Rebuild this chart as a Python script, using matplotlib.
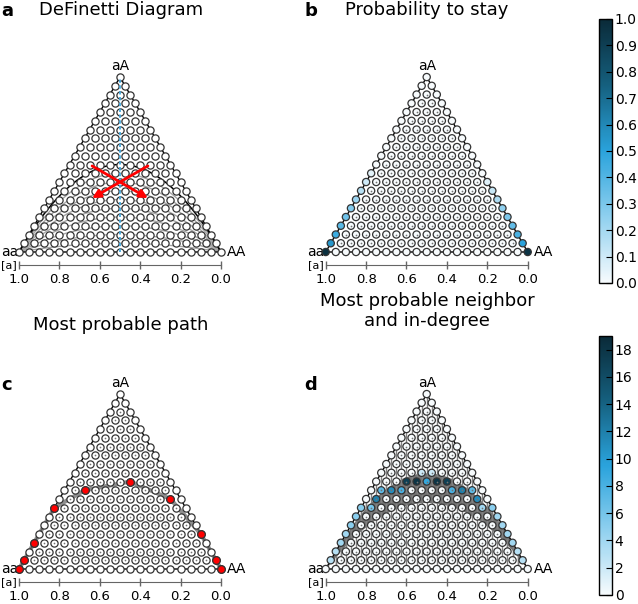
import numpy as np
import matplotlib
matplotlib.use('Agg')
import matplotlib.pyplot as plt
from matplotlib.colors import LinearSegmentedColormap, Normalize
from matplotlib.cm import ScalarMappable

N = 20                      # population size -> N+1 nodes on the bottom row
H = np.sqrt(3) / 2          # height of the triangle in data units

freq_ticks = [0.0, 0.2, 0.4, 0.6, 0.8, 1.0]
freq_labels = ['0.0', '0.2', '0.4', '0.6', '0.8', '1.0']

# panel a: inbreeding curves below Hardy-Weinberg, and the two arrows
inbreeding = [0.1, 0.2, 0.3, 0.4, 0.5, 0.6, 0.7, 0.8, 0.9]
arrow_from_p = [0.65, 0.35]
arrow_from_het = [10, 10]
arrow_to_p = [0.35, 0.65]
arrow_to_het = [6, 6]

# panel b: probability to stay on the two edges (index = number of aA)
stay_left = [0.97, 0.55, 0.45, 0.38, 0.33, 0.28, 0.22, 0.16, 0.1, 0.05]
stay_right = [0.95, 0.5, 0.42, 0.36, 0.3, 0.25, 0.18, 0.12, 0.06]

# panel c: most probable path (number of aA, number of aa)
path_het = [0, 1, 3, 7, 9, 10, 8, 4, 1, 0]
path_aa = [20, 19, 17, 13, 9, 4, 1, 0, 0, 0]

# panel d: in-degree of the most probable neighbor graph
deg_het = [10, 10, 10, 10, 10, 11, 11, 9, 9, 9, 9, 9, 9, 8, 8,
           7, 7, 7, 7, 6, 5, 4, 3, 2, 2, 1, 1, 6, 5, 4, 3]
deg_aa = [7, 6, 5, 4, 3, 5, 4, 10, 9, 8, 3, 2, 1, 11, 1,
          13, 12, 1, 0, 0, 15, 0, 17, 18, 0, 19, 0, 14, 0, 16, 0]
deg_val = [17, 18, 9, 18, 17, 2, 2, 7, 11, 8, 8, 12, 7, 12, 11,
           5, 6, 4, 5, 4, 5, 4, 4, 3, 3, 3, 3, 5, 4, 4, 4]

W, HP = 638, 604
S = 202.0

cmap = LinearSegmentedColormap.from_list(
    'stay', ['#f7fbfd', '#8fd0ef', '#2aa3dc', '#15607f', '#0a2a38'],
    N=256)


def node_xy(het, aa):
    het = np.asarray(het, float)
    aa = np.asarray(aa, float)
    return (2 * aa + het) / (2 * N), het / N * H


def lattice():
    het, aa = [], []
    for k in range(N + 1):
        for i in range(N - k + 1):
            het.append(k)
            aa.append(i)
    return np.array(het), np.array(aa)


def tri_axes(fig, x0, y0):
    mx, mb, mt = 0.09, 0.13, 0.08
    left = x0 - mx * S
    width = (1 + 2 * mx) * S
    bottom = y0 + mb * S
    height = (H + mb + mt) * S
    ax = fig.add_axes([left / W, (HP - bottom) / HP, width / W, height / HP])
    ax.set_xlim(1 + mx, -mx)
    ax.set_ylim(-mb, H + mt)
    for s in ['top', 'left', 'right']:
        ax.spines[s].set_visible(False)
    ax.spines['bottom'].set_position(('data', -0.064))
    ax.spines['bottom'].set_bounds(0, 1)
    ax.spines['bottom'].set_color('0.4')
    ax.set_xticks(freq_ticks)
    ax.set_xticklabels(freq_labels)
    ax.set_yticks([])
    ax.tick_params(axis='x', direction='inout', length=6, width=1,
                   color='0.4', labelsize=9.5, pad=2.5)
    ax.patch.set_visible(False)
    ax.text(1.01, -0.064, '[a]', ha='right', va='center', fontsize=8)
    ax.text(1.005, 0, 'aa', ha='right', va='center', fontsize=10)
    ax.text(-0.03, 0, 'AA', ha='left', va='center', fontsize=10)
    ax.text(0.5, H + 0.02, 'aA', ha='center', va='bottom', fontsize=10)
    ax.plot([1, 0.5, 0, 1], [0, H, 0, 0], color='k', lw=1, zorder=2)
    return ax


def draw_nodes(ax, colors='white', dots=True):
    het, aa = lattice()
    x, y = node_xy(het, aa)
    ax.scatter(x, y, s=27, c=colors, edgecolors='#333333', linewidths=0.9,
               zorder=3)
    if dots:
        inner = (het > 0) & (aa > 0) & (het + aa < N)
        ax.scatter(x[inner], y[inner], s=1.5, c='0.45', lw=0, zorder=4)


fig = plt.figure(figsize=(W / 100, HP / 100), dpi=100)
p = np.linspace(0, 1, 300)
hw = 2 * p * (1 - p)

# ---- a: DeFinetti diagram
ax = tri_axes(fig, 19, 252)
for F in inbreeding:
    ax.plot(p, hw * (1 - F) * H, color='0.65', lw=1, zorder=1)
ax.plot(p, hw * H, color='k', lw=1.1, zorder=1)
draw_nodes(ax, dots=False)
ax.plot([0.5, 0.5], [0, H], color='#3aa6de', lw=1.2, ls='--',
        dashes=(2, 1.5), zorder=4)
for p0, h0, p1, h1 in zip(arrow_from_p, arrow_from_het, arrow_to_p,
                          arrow_to_het):
    ax.annotate('', xy=(p1, h1 / N * H), xytext=(p0, h0 / N * H),
                arrowprops=dict(arrowstyle='-|>', color='red', lw=2,
                                mutation_scale=12), zorder=5)

# ---- b: probability to stay
ax = tri_axes(fig, 325.7, 252)
het, aa = lattice()
stay = np.zeros(len(het))
for k, v in enumerate(stay_left):
    stay[(het == k) & (aa == N - k)] = v
for k, v in enumerate(stay_right):
    stay[(het == k) & (aa == 0)] = v
norm1 = Normalize(0, 1)
draw_nodes(ax, colors=cmap(norm1(stay)))

cax = fig.add_axes([599 / W, (HP - 283) / HP, 13 / W, 264 / HP])
cb = fig.colorbar(ScalarMappable(norm1, cmap), cax=cax,
                  ticks=np.arange(0, 1.01, 0.1))
cb.ax.set_yticklabels(['%.1f' % t for t in np.arange(0, 1.01, 0.1)])
cb.ax.tick_params(labelsize=10, length=4, direction='in', pad=2)
cb.outline.set_linewidth(1)

# ---- c: most probable path
ax = tri_axes(fig, 19, 569)
draw_nodes(ax)
px, py = node_xy(path_het, path_aa)
ax.plot(px, py, color='0.45', lw=3, alpha=0.8, zorder=2)
ax.scatter(px, py, s=30, c='red', edgecolors='#333333', linewidths=0.9,
           zorder=5)

# ---- d: most probable neighbor and in-degree
ax = tri_axes(fig, 325.7, 569)
edge = 2 * np.minimum(p, 1 - p)
ax.fill_between(p, np.minimum(hw * 0.76, edge) * H,
                np.minimum(hw * 1.1, edge) * H,
                color='0.35', alpha=0.85, lw=0, zorder=1)
het, aa = lattice()
for k, i in zip(het, aa):
    q = (2 * i + k) / (2 * N)
    up = k / N < 2 * q * (1 - q)
    k2, i2 = (k + 2, i - 1) if up else (k - 2, i + 1)
    if 0 <= k2 <= N and 0 <= i2 <= N - k2:
        x1, y1 = node_xy([k, k2], [i, i2])
        ax.plot(x1, y1, color='0.5', lw=1, zorder=2)
deg = np.zeros(len(het))
for k, i, v in zip(deg_het, deg_aa, deg_val):
    deg[(het == k) & (aa == i)] = v
norm2 = Normalize(0, 19)
draw_nodes(ax, colors=cmap(norm2(deg)))

cax = fig.add_axes([599 / W, (HP - 595) / HP, 13 / W, 259 / HP])
cb = fig.colorbar(ScalarMappable(norm2, cmap), cax=cax,
                  ticks=np.arange(0, 19, 2))
cb.ax.tick_params(labelsize=10, length=4, direction='in', pad=2)
cb.outline.set_linewidth(1)

# titles and panel letters
def ftext(x, y, s, **kw):
    fig.text(x / W, 1 - y / HP, s, **kw)

ftext(121, 10, 'DeFinetti Diagram', ha='center', va='center', fontsize=13)
ftext(427, 10, 'Probability to stay', ha='center', va='center', fontsize=13)
ftext(121, 325, 'Most probable path', ha='center', va='center', fontsize=13)
ftext(427, 311, 'Most probable neighbor\nand in-degree', ha='center',
      va='center', fontsize=13, linespacing=1.15)
ftext(1, 11, 'a', ha='left', va='center', fontsize=13, weight='bold')
ftext(304, 11, 'b', ha='left', va='center', fontsize=13, weight='bold')
ftext(1, 385, 'c', ha='left', va='center', fontsize=13, weight='bold')
ftext(304, 385, 'd', ha='left', va='center', fontsize=13, weight='bold')

fig.savefig('out.png', dpi=100)
